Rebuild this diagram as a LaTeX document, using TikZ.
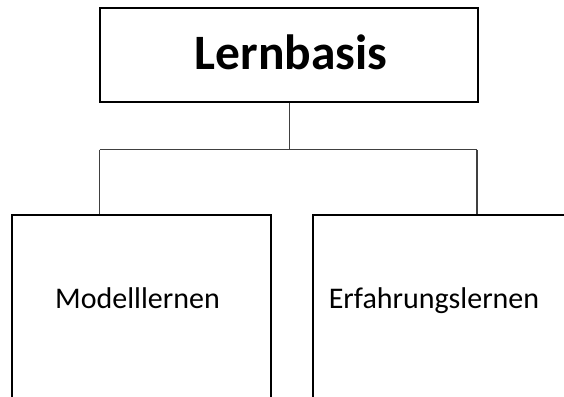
\documentclass[tikz,border=0pt]{standalone}
\usepackage{fontspec}
\setmainfont{Carlito}
\begin{document}
\begin{tikzpicture}[x=1pt,y=-1pt,
  box/.style={draw=black,line width=2.2pt,fill=white,inner sep=0pt,anchor=north west},
  conn/.style={draw=black!75,line width=1.1pt},
  lbl/.style={font=\fontsize{30}{36}\selectfont,inner sep=0pt,anchor=base}]
\useasboundingbox[fill=white] (0,0) rectangle (564,396);
\begin{scope}
\clip (0,0) rectangle (564,396);
\node[box,minimum width=378pt,minimum height=94pt] (top) at (99,7) {};
\node[font=\bfseries\fontsize{49.5}{58}\selectfont,inner sep=0pt,anchor=base] (toplbl) at (291,70) {Lernbasis};
\node[box,minimum width=259.5pt,minimum height=220pt] (lbox) at (10.5,214) {};
\node[box,minimum width=280pt,minimum height=220pt] (rbox) at (312,214) {};
\node[lbl] (ltxt) at (137.5,308) {Modelllernen};
\node[lbl] (rtxt) at (434,308) {Erfahrungslernen};
\coordinate (jl) at (99.5,149.5);
\coordinate (jr) at (477,149.5);
\draw[conn] (top.south) -- (top.south |- jl);
\draw[conn] (jl) -- (jr);
\draw[conn] (jl) -- (jl |- lbox.north);
\draw[conn] (jr) -- (jr |- rbox.north);
\end{scope}
\end{tikzpicture}
\end{document}
